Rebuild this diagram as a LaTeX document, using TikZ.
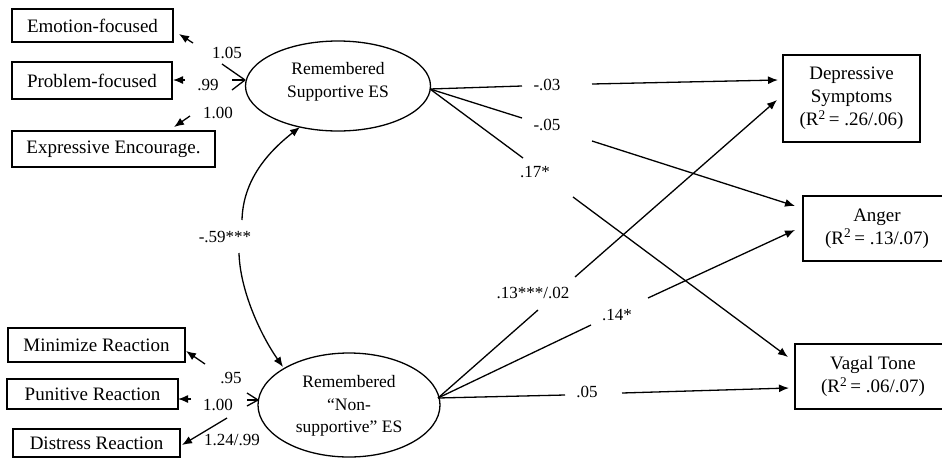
\documentclass[tikz,border=0pt]{standalone}
\usepackage{fontspec}
\setmainfont{Liberation Serif}
\usetikzlibrary{arrows.meta,shapes.geometric}
\begin{document}
\begin{tikzpicture}[x=1pt,y=-1pt,
  box/.style={draw, line width=1.4pt, inner sep=0pt, align=center, font=\fontsize{19}{23}\selectfont},
  lat/.style={draw, ellipse, line width=1.3pt, inner sep=0pt},
  lattext/.style={align=center, inner sep=0pt, font=\fontsize{17.5}{22.5}\selectfont},
  lab/.style={font=\fontsize{17}{20}\selectfont, inner sep=0pt},
  ln/.style={line width=1.3pt},
  arr/.style={line width=1.3pt, -{Latex[length=10pt,width=8pt]}}
]
\useasboundingbox (0,0) rectangle (942,464);
% indicator boxes
\node[box, minimum width=161, minimum height=33] (emo) at (92.5,25.5) {Emotion-focused};
\node[box, minimum width=160, minimum height=37] (prob) at (92,80.5) {Problem-focused};
\node[box, minimum width=203, minimum height=36] (expr) at (113.5,149) {Expressive Encourage.};
\node[box, minimum width=177, minimum height=34] (mini) at (96.5,345) {Minimize Reaction};
\node[box, minimum width=171, minimum height=30] (puni) at (92.5,394) {Punitive Reaction};
\node[box, minimum width=167, minimum height=28] (dist) at (96.5,443) {Distress Reaction};
% outcome boxes
\node[box, minimum width=137, minimum height=87] (dep) at (851.5,98.5) {Depressive\\Symptoms\\(R\textsuperscript{2}\,= .26/.06)};
\node[box, minimum width=148, minimum height=65] (ang) at (877,228.5) {Anger\\(R\textsuperscript{2}\,= .13/.07)};
\node[box, minimum width=156, minimum height=65] (vag) at (873,376.5) {Vagal Tone\\(R\textsuperscript{2}\,= .06/.07)};
% latent variables
\node[lat, minimum width=185, minimum height=90] (sup) at (338,86) {};
\node[lattext] (suptxt) at (338,82) {Remembered\\Supportive ES};
\node[lat, minimum width=182, minimum height=104] (non) at (349,405) {};
\node[lattext] (nontxt) at (349,406) {Remembered\\``Non-\\supportive'' ES};
% labels
\node[lab] (l105) at (227,53) {1.05};
\node[lab] (l99) at (208,85) {.99};
\node[lab] (l100a) at (218,113) {1.00};
\node[lab] (l95) at (231,378) {.95};
\node[lab] (l100b) at (218,405) {1.00};
\node[lab] (l124) at (232,440) {1.24/.99};
\node[lab] (lm03) at (547,85) {-.03};
\node[lab] (lm05) at (547,125) {-.05};
\node[lab] (l17) at (535,172) {.17*};
\node[lab] (l13) at (533,293) {.13***/.02};
\node[lab] (l14) at (617,315) {.14*};
\node[lab] (l05) at (587,392) {.05};
\node[lab] (l59) at (225,237) {-.59***};
% anchor points
\coordinate (L1) at (245,80);
\coordinate (L2) at (258,400);
\coordinate (O1) at (430,89);
\coordinate (O2) at (438,398);
% measurement paths (top)
\coordinate (e1) at (222,64); \coordinate (e2) at (193,43); \coordinate (e3) at (179,34);
\coordinate (p1) at (232,80); \coordinate (p2) at (185,80); \coordinate (p3) at (173,80);
\coordinate (x1) at (232,90); \coordinate (x2) at (190,116); \coordinate (x3) at (174,127);
\draw[ln] (L1) -- (e1); \draw[arr] (e2) -- (e3);
\draw[ln] (L1) -- (p1); \draw[arr] (p2) -- (p3);
\draw[ln] (L1) -- (x1); \draw[arr] (x2) -- (x3);
% measurement paths (bottom)
\coordinate (m1) at (247,393); \coordinate (m2) at (205,364); \coordinate (m3) at (186,351);
\coordinate (u1) at (247,400); \coordinate (u2) at (191,399); \coordinate (u3) at (178,399);
\coordinate (d1) at (247,406); \coordinate (d2) at (227,418); \coordinate (d3) at (182,445);
\draw[ln] (L2) -- (m1); \draw[arr] (m2) -- (m3);
\draw[ln] (L2) -- (u1); \draw[arr] (u2) -- (u3);
\draw[ln] (L2) -- (d1); \draw[arr] (d2) -- (d3);
% structural paths from supportive
\coordinate (a1) at (522,86); \coordinate (a2) at (592,84); \coordinate (a3) at (778,80);
\coordinate (b1) at (522,118); \coordinate (b2) at (592,141); \coordinate (b3) at (795,206);
\coordinate (c1) at (523,158); \coordinate (c2) at (573,197); \coordinate (c3) at (788,357);
\draw[ln] (O1) -- (a1); \draw[arr] (a2) -- (a3);
\draw[ln] (O1) -- (b1); \draw[arr] (b2) -- (b3);
\draw[ln] (O1) -- (c1); \draw[arr] (c2) -- (c3);
% structural paths from non-supportive
\coordinate (f1) at (538,310); \coordinate (f2) at (575,277); \coordinate (f3) at (777,100);
\coordinate (g1) at (591,325); \coordinate (g2) at (648,298); \coordinate (g3) at (795,230);
\coordinate (h1) at (565,395); \coordinate (h2) at (622,393); \coordinate (h3) at (789,388);
\draw[ln] (O2) -- (f1); \draw[arr] (f2) -- (f3);
\draw[ln] (O2) -- (g1); \draw[arr] (g2) -- (g3);
\draw[ln] (O2) -- (h1); \draw[arr] (h2) -- (h3);
% correlation
\coordinate (k1) at (242,220); \coordinate (k2) at (300,127);
\coordinate (k3) at (239,253); \coordinate (k4) at (283,367);
\draw[arr] (k1) .. controls (243,180) and (268,152) .. (k2);
\draw[arr] (k3) .. controls (240,290) and (260,334) .. (k4);
\end{tikzpicture}
\end{document}
